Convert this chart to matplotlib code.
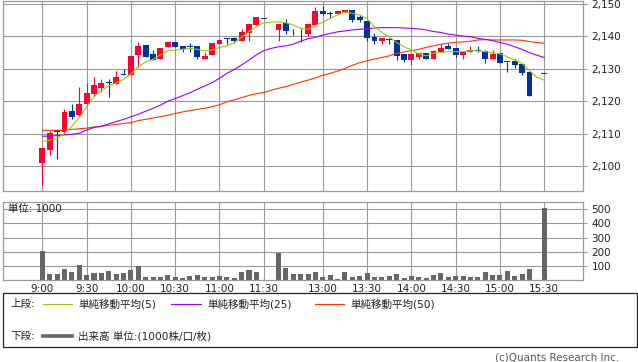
import matplotlib
matplotlib.use("Agg")
import matplotlib.pyplot as plt
from matplotlib.lines import Line2D
from matplotlib.patches import Rectangle
from matplotlib.ticker import FixedLocator, FuncFormatter
import numpy as np

plt.rcParams['font.family'] = ['DejaVu Sans', 'Noto Sans CJK JP']

# ---------------- data ----------------
# 5-minute slots: morning 9:00-11:30, lunch gap, afternoon 12:30-15:30
morning = [f"{h}:{m:02d}" for h in range(9, 12) for m in range(0, 60, 5) if (h, m) <= (11, 30)]
afternoon = [f"{h}:{m:02d}" for h in range(12, 16) for m in range(0, 60, 5) if (12, 30) <= (h, m) <= (15, 30)]
slots = morning + [""] + afternoon

tick_labels = ["9:00", "9:30", "10:00", "10:30", "11:00", "11:30",
               "13:00", "13:30", "14:00", "14:30", "15:00", "15:30"]

N = None
opens = [2101.0, 2105.0, 2111.0, 2110.4, 2117.0, 2115.7, 2119.0, 2122.3, 2124.1, 2126.0,
         2125.4, 2128.2, 2128.2, 2134.3, 2137.3, 2134.6, 2133.0, 2136.8, 2138.3, 2136.9,
         2137.0, 2136.9, 2133.0, 2134.4, 2137.8, 2139.4, 2139.6, 2138.6, 2141.2, 2143.6,
         2145.4, N, 2142.0, 2144.2, 2141.0, 2141.0, 2140.6, 2143.5, 2147.8, 2147.2,
         2146.9, 2147.4, 2148.3, 2146.0, 2144.7, 2139.8, 2138.6, 2139.0, 2138.9, 2134.6,
         2132.7, 2133.7, 2134.8, 2133.1, 2135.1, 2137.0, 2136.3, 2134.3, 2135.3, 2135.6,
         2135.5, 2133.1, 2134.9, 2132.1, 2132.5, 2131.5, 2129.0, N, 2128.5]
highs = [2105.7, 2110.9, 2111.5, 2117.7, 2119.1, 2124.3, 2125.6, 2127.4, 2126.9, 2126.9,
         2129.3, 2130.0, 2134.0, 2138.2, 2137.3, 2135.8, 2136.3, 2138.3, 2138.3, 2136.9,
         2137.9, 2136.9, 2135.3, 2138.0, 2139.0, 2139.4, 2139.9, 2142.2, 2143.8, 2146.1,
         2145.4, N, 2143.8, 2145.3, 2142.2, 2142.2, 2143.8, 2149.2, 2149.4, 2147.8,
         2147.8, 2148.3, 2148.3, 2146.6, 2144.7, 2141.0, 2139.6, 2139.6, 2138.9, 2134.6,
         2134.6, 2134.8, 2134.8, 2135.8, 2137.6, 2137.9, 2136.3, 2135.3, 2137.0, 2137.0,
         2135.8, 2135.8, 2134.9, 2132.1, 2133.0, 2131.5, 2129.0, N, 2128.5]
lows = [2094.0, 2103.4, 2102.2, 2110.0, 2114.4, 2115.5, 2118.9, 2121.6, 2122.8, 2121.4,
        2125.3, 2128.0, 2128.2, 2130.7, 2133.7, 2132.7, 2133.0, 2136.8, 2136.8, 2135.3,
        2135.3, 2132.9, 2133.0, 2134.4, 2137.8, 2137.6, 2138.1, 2138.6, 2138.7, 2143.6,
        2145.3, N, 2138.7, 2140.6, 2140.3, 2138.4, 2140.2, 2143.5, 2146.6, 2145.8,
        2146.9, 2147.1, 2144.5, 2144.5, 2138.7, 2137.8, 2137.8, 2137.8, 2132.7, 2132.1,
        2131.2, 2132.9, 2133.1, 2133.1, 2135.1, 2136.1, 2133.7, 2133.0, 2135.3, 2135.3,
        2131.9, 2133.1, 2131.9, 2129.1, 2130.2, 2128.2, 2121.6, N, 2128.4]
closes = [2105.7, 2110.1, 2110.4, 2116.7, 2115.2, 2119.1, 2122.5, 2125.0, 2125.6, 2125.5,
          2127.5, 2128.0, 2134.0, 2136.9, 2133.7, 2132.7, 2136.3, 2138.3, 2136.8, 2136.0,
          2136.8, 2133.7, 2134.0, 2138.0, 2139.0, 2139.3, 2138.6, 2141.4, 2143.8, 2146.1,
          2145.3, N, 2143.8, 2141.8, 2140.9, 2140.9, 2143.8, 2147.8, 2146.9, 2147.0,
          2147.8, 2148.3, 2145.1, 2145.2, 2139.6, 2138.6, 2139.6, 2138.9, 2134.0, 2132.7,
          2134.6, 2134.8, 2133.1, 2135.5, 2136.3, 2136.1, 2134.3, 2135.3, 2135.8, 2135.5,
          2133.1, 2134.5, 2131.9, 2132.0, 2131.3, 2128.8, 2121.6, N, 2128.4]

ma5 = [2107.5, 2108.0, 2108.5, 2110.1, 2112.3, 2115.0, 2118.3, 2121.4, 2123.3, 2124.7,
       2125.7, 2126.7, 2128.4, 2130.7, 2132.1, 2132.9, 2134.3, 2135.6, 2135.8, 2136.0,
       2136.3, 2136.0, 2135.5, 2135.8, 2136.6, 2137.1, 2138.1, 2139.7, 2141.5, 2143.0,
       2144.2, 2144.4, 2144.5, 2144.2, 2143.5, 2142.5, 2142.2, 2143.4, 2144.4, 2145.6,
       2146.6, 2147.5, 2147.1, 2146.6, 2145.5, 2143.0, 2141.2, 2139.9, 2138.1, 2136.8,
       2135.8, 2134.6, 2134.0, 2134.8, 2135.0, 2135.3, 2135.3, 2135.3, 2135.6, 2135.5,
       2135.3, 2135.0, 2134.6, 2133.7, 2132.7, 2131.7, 2129.4, 2127.4, 2126.5]
ma25 = [2109.2, 2109.2, 2109.4, 2109.6, 2109.8, 2110.1, 2111.1, 2111.9, 2112.3, 2113.0,
        2113.7, 2114.4, 2115.2, 2116.0, 2116.9, 2117.8, 2118.8, 2120.0, 2120.8, 2121.7,
        2122.6, 2123.7, 2124.7, 2125.7, 2127.1, 2128.6, 2129.8, 2131.2, 2132.7, 2134.3,
        2135.6, 2136.3, 2136.8, 2137.1, 2137.6, 2138.5, 2139.3, 2139.7, 2140.4, 2140.9,
        2141.4, 2141.7, 2142.0, 2142.2, 2142.4, 2142.6, 2142.7, 2142.7, 2142.7, 2142.6,
        2142.5, 2142.3, 2142.0, 2141.5, 2141.2, 2140.7, 2140.4, 2140.1, 2139.9, 2139.4,
        2139.1, 2138.7, 2138.1, 2137.6, 2136.8, 2136.0, 2135.0, 2134.2, 2133.5]
ma50 = [2111.0, 2111.0, 2111.0, 2111.1, 2111.3, 2111.5, 2111.7, 2112.0, 2112.2, 2112.6,
        2112.8, 2113.1, 2113.4, 2114.0, 2114.4, 2114.8, 2115.2, 2115.7, 2116.2, 2116.7,
        2117.1, 2117.5, 2117.8, 2118.3, 2118.9, 2119.8, 2120.4, 2121.1, 2121.8, 2122.3,
        2122.7, 2123.4, 2124.0, 2124.5, 2125.2, 2125.9, 2126.5, 2127.2, 2128.0, 2128.6,
        2129.3, 2130.1, 2131.1, 2131.9, 2132.5, 2133.0, 2133.5, 2134.0, 2134.8, 2135.2,
        2135.6, 2136.0, 2136.6, 2137.1, 2137.6, 2137.9, 2138.2, 2138.3, 2138.5, 2138.9,
        2139.0, 2138.9, 2138.9, 2138.9, 2138.9, 2138.8, 2138.4, 2138.1, 2137.9]

volume = [207, 44, 44, 79, 58, 107, 37, 51, 51, 65,
          44, 51, 72, 98, 23, 23, 23, 37, 23, 14,
          30, 37, 23, 23, 30, 23, 16, 58, 72, 58,
          5, N, 193, 86, 44, 44, 44, 58, 23, 37,
          9, 58, 23, 30, 51, 23, 23, 30, 44, 16,
          30, 23, 16, 37, 51, 23, 30, 30, 23, 23,
          58, 37, 37, 65, 30, 44, 79, N, 509]

# ---------------- style ----------------
W, H = 638, 362
UP = "#ff0033"
DOWN = "#003399"
C5, C25, C50 = "#99cc00", "#9900ff", "#ff3300"
GRID = "#999999"
VOLC = "#666666"

fig = plt.figure(figsize=(W / 100, H / 100), dpi=100)


def fx(x):
    return x / W


def fy(y):
    return 1 - y / H


ax = fig.add_axes([fx(3), fy(190.7), fx(583) - fx(3), fy(0.5) - fy(190.7)])
axv = fig.add_axes([fx(3), fy(280.3), fx(583) - fx(3), fy(201.7) - fy(280.3)])

x = np.arange(len(slots))
tick_pos = [slots.index(t) for t in tick_labels]

for a in (ax, axv):
    a.set_xlim(-5.33, 73.25)
    a.xaxis.set_major_locator(FixedLocator(tick_pos))
    a.grid(True, color=GRID, linewidth=0.8, zorder=0)
    a.set_axisbelow(True)
    for s in a.spines.values():
        s.set_color(GRID)
        s.set_linewidth(0.9)
    a.yaxis.tick_right()
    a.tick_params(axis='y', direction='out', length=3.2, width=0.8, color=GRID,
                  labelsize=7.5, pad=3.0, labelcolor="#222222", left=False, right=True)


def f(v):
    return np.array([np.nan if e is None else e for e in v], dtype=float)


# candles
o, hi, lo, c = f(opens), f(highs), f(lows), f(closes)
valid = ~np.isnan(o)
cols = np.where(c >= o, UP, DOWN)
ax.vlines(x[valid], lo[valid], hi[valid], colors=cols[valid], linewidth=0.8, zorder=2)
bh = np.maximum(np.abs(c - o), 0.3)
ax.bar(x[valid], bh[valid], bottom=np.minimum(o, c)[valid], width=0.8,
       color=cols[valid], edgecolor='none', linewidth=0, zorder=2)

for ma, col in ((ma50, C50), (ma25, C25), (ma5, C5)):
    m = f(ma)
    ok = ~np.isnan(m)
    ax.plot(x[ok], m[ok], color=col, linewidth=0.8, zorder=3)

ax.set_ylim(2092.38, 2151.08)
ax.yaxis.set_major_locator(FixedLocator([2100, 2110, 2120, 2130, 2140, 2150]))
ax.yaxis.set_major_formatter(FuncFormatter(lambda v, p: f"{v:,.0f}"))
ax.tick_params(axis='x', length=0, labelbottom=False)

# volume
vol = f(volume)
okv = ~np.isnan(vol)
axv.bar(x[okv], vol[okv], width=0.68, color=VOLC, edgecolor='none', zorder=2)
axv.set_ylim(0, 551)
axv.yaxis.set_major_locator(FixedLocator([100, 200, 300, 400, 500]))
axv.xaxis.set_major_formatter(FuncFormatter(lambda v, p: slots[int(round(v))]))
axv.tick_params(axis='x', length=0, labelsize=7.5, pad=3.0, labelcolor="#222222")

fig.text(fx(8), fy(209), "単位: 1000", fontsize=7.5, va='center', ha='left', color="#222222")

# legend box
fig.add_artist(Rectangle((fx(3), fy(347)), fx(637) - fx(3), fy(293) - fy(347),
                         transform=fig.transFigure, fill=False, edgecolor="#222222", linewidth=0.9))
ty1, ty2 = 304, 336
fs = 7.6
fig.text(fx(10), fy(ty1), "上段:", fontsize=fs, va='center', ha='left', color="#222222")
fig.add_artist(Line2D([fx(43), fx(72)], [fy(ty1)] * 2, color=C5, linewidth=0.8, transform=fig.transFigure))
fig.text(fx(78), fy(ty1), "単純移動平均(5)", fontsize=fs, va='center', ha='left', color="#222222")
fig.add_artist(Line2D([fx(171), fx(201)], [fy(ty1)] * 2, color=C25, linewidth=0.8, transform=fig.transFigure))
fig.text(fx(207), fy(ty1), "単純移動平均(25)", fontsize=fs, va='center', ha='left', color="#222222")
fig.add_artist(Line2D([fx(315), fx(344)], [fy(ty1)] * 2, color=C50, linewidth=0.8, transform=fig.transFigure))
fig.text(fx(350), fy(ty1), "単純移動平均(50)", fontsize=fs, va='center', ha='left', color="#222222")

fig.text(fx(10), fy(ty2), "下段:", fontsize=fs, va='center', ha='left', color="#222222")
fig.add_artist(Line2D([fx(43), fx(72)], [fy(ty2)] * 2, color=VOLC, linewidth=2.6, transform=fig.transFigure))
fig.text(fx(78), fy(ty2), "出来高 単位:(1000株/口/枚)", fontsize=fs, va='center', ha='left', color="#222222")

fig.text(fx(619), fy(357), "(c)Quants Research Inc.", fontsize=7.5, va='center', ha='right', color="#555555")

fig.savefig("out.png", dpi=100)
